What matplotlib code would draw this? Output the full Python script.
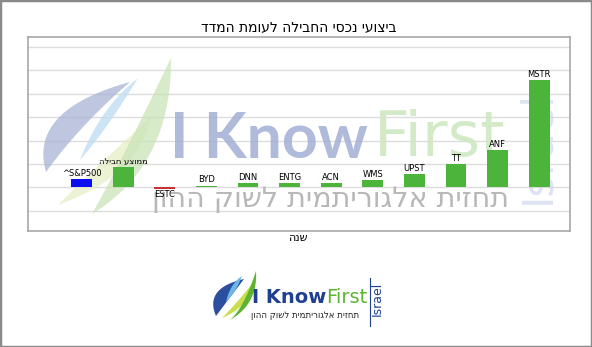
import matplotlib.pyplot as plt
import numpy as np
from matplotlib.patches import Polygon, Rectangle

# data (units = one gridline step)
tickers = ['^S&P500', 'ממוצע חבילה', 'ESTC', 'BYD', 'DNN', 'ENTG', 'ACN', 'WMS', 'UPST', 'TT', 'ANF', 'MSTR']
returns = [0.34, 0.88, -0.05, 0.07, 0.17, 0.17, 0.18, 0.31, 0.57, 0.98, 1.59, 4.58]
bar_colors = ['#0a0ff0', '#4db43b', '#c83232'] + ['#4db43b'] * 9
title = 'ביצועי נכסי החבילה לעומת המדד'
xlabel = 'שנה'
slogan = 'תחזית אלגוריתמית לשוק ההון'

W, H = 592, 347


def heb(s):
    # matplotlib has no bidi support, so flip hebrew strings
    if any('\u0590' <= c <= '\u05ff' for c in s):
        return s[::-1]
    return s


def fx(x):
    return x / W


def fy(y):
    return 1 - y / H


def swoosh(p0, c_out, p1, c_in, color, alpha, target, z):
    # crescent built from two quadratic curves, in pixel coords (y down)
    t = np.linspace(0, 1, 40)
    p0, c_out, p1, c_in = map(np.array, (p0, c_out, p1, c_in))
    outer = ((1 - t) ** 2)[:, None] * p0 + (2 * t * (1 - t))[:, None] * c_out + (t ** 2)[:, None] * p1
    inner = ((1 - t) ** 2)[:, None] * p1 + (2 * t * (1 - t))[:, None] * c_in + (t ** 2)[:, None] * p0
    pts = np.vstack([outer, inner])
    pts = np.column_stack([pts[:, 0] / W, 1 - pts[:, 1] / H])
    poly = Polygon(pts, closed=True, facecolor=color, edgecolor='none', alpha=alpha,
                   transform=fig.transFigure, zorder=z, clip_on=False)
    target.add_artist(poly)


fig = plt.figure(figsize=(W / 100, H / 100), dpi=100)
ax = fig.add_axes([fx(28), fy(230.7), fx(570.3 - 28), (230.7 - 36.7) / H])

x = np.arange(len(tickers))
bars = ax.bar(x, returns, width=0.5, color=bar_colors, zorder=3)

for xi, v in zip(x, returns):
    lbl = heb(tickers[xi])
    if v >= 0:
        ax.annotate(lbl, (xi, v), xytext=(0, 1), textcoords='offset points',
                    ha='center', va='bottom', fontsize=6, zorder=4)
    else:
        ax.annotate(lbl, (xi, v), xytext=(0, -1), textcoords='offset points',
                    ha='center', va='top', fontsize=6, zorder=4)

ax.set_xlim(-1.29, 11.745)
ax.set_ylim(-1.85, 6.44)
ax.set_xticks([])
ax.set_yticks(np.arange(-1, 7))
ax.tick_params(axis='y', length=0, labelleft=False)
ax.yaxis.grid(color='#dcdcdc', linewidth=1)
ax.set_axisbelow(True)
for s in ax.spines.values():
    s.set_color('#a8a8a8')
    s.set_linewidth(1.2)

ax.set_title(heb(title), fontsize=10, pad=4)
ax.set_xlabel(heb(xlabel), fontsize=8, labelpad=2)

# watermark inside the plot
swoosh((46, 172), (28, 110), (130, 82), (80, 125), '#a9b4d6', 0.75, ax, 1.5)
swoosh((80, 160), (100, 108), (138, 78), (108, 128), '#bcdcf2', 0.75, ax, 1.6)
swoosh((58, 205), (140, 175), (150, 118), (98, 165), '#e4eec2', 0.7, ax, 1.55)
swoosh((92, 214), (172, 165), (171, 58), (118, 168), '#c6e3b4', 0.7, ax, 1.6)
t1 = ax.text(fx(170), fy(158), 'I Know', transform=fig.transFigure, fontsize=45,
             family='Lato', fontweight='bold',
             color='#a2aed4', alpha=0.85, ha='left', va='baseline', zorder=1.7, clip_on=False)
ax.annotate('First', xy=(1, 0), xycoords=t1, xytext=(4, 0), textcoords='offset points',
            ha='left', va='bottom', fontsize=45,
            color='#cfe8c2', alpha=0.9, zorder=1.7, annotation_clip=False)
ax.text(fx(331), fy(199), heb(slogan), transform=fig.transFigure, fontsize=20.5,
        color='#b8b8b8', ha='center', va='center', zorder=1.7, clip_on=False)
ax.text(fx(537), fy(147), 'Israel', transform=fig.transFigure, fontsize=30, rotation=90,
        color='#c4cde6', alpha=0.55, ha='center', va='center', zorder=1.7, clip_on=False)

# logo below the chart
ax_logo = fig.add_axes([0, 0, 1, 1], zorder=-1)
ax_logo.axis('off')
swoosh((216, 316), (204, 288), (244, 279), (228, 300), '#2b4f9e', 1, ax_logo, 2)
swoosh((226, 302), (230, 284), (242, 276), (236, 292), '#6bb7e6', 1, ax_logo, 2.1)
swoosh((222, 318), (250, 306), (252, 284), (236, 304), '#c9de4a', 1, ax_logo, 2.05)
swoosh((230, 320), (258, 304), (256, 271), (244, 308), '#5cb531', 1, ax_logo, 2.2)
t2 = ax_logo.text(fx(252), fy(303), 'I Know', fontsize=14, fontweight='bold', color='#1f3f93',
                  transform=fig.transFigure, ha='left', va='baseline')
ax_logo.annotate('First', xy=(1, 0), xycoords=t2, ha='left', va='bottom', fontsize=14,
                 color='#5cb531')
ax_logo.text(fx(305), fy(315), heb(slogan), transform=fig.transFigure, fontsize=6.2,
             color='#222222', ha='center', va='center')
ax_logo.plot([fx(370), fx(370)], [fy(278), fy(326)], color='#1f3f93', lw=0.8,
             transform=fig.transFigure)
ax_logo.text(fx(377), fy(299), 'Israel', transform=fig.transFigure, fontsize=9, rotation=90,
             color='#1f3f93', ha='center', va='center')

# thin grey frame around the picture
fig.patches.append(Rectangle((0, 0), 1, 1, transform=fig.transFigure, fill=False,
                             edgecolor='#8a8a8a', linewidth=2.5))

plt.savefig('out.png', dpi=100)
